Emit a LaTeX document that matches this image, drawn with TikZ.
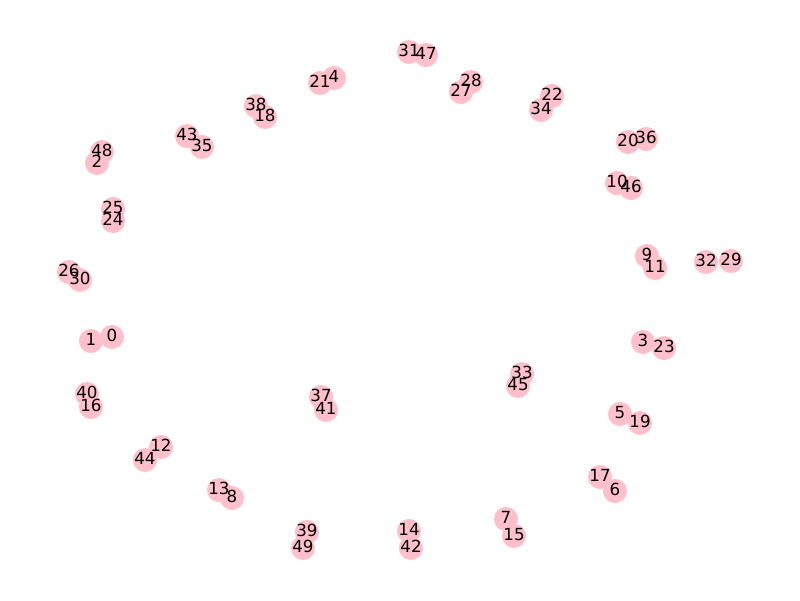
\documentclass[tikz,border=0pt]{standalone}
\usepackage{fontspec}
\setmainfont{DejaVu Sans}
\definecolor{nodepink}{HTML}{FFC0CB}

\begin{document}
\begin{tikzpicture}[x=0.72pt, y=-0.72pt,
    dot/.style={circle, fill=nodepink, inner sep=0pt, minimum size=17.3pt},
    lbl/.style={inner sep=0pt, font=\fontsize{12}{14}\selectfont, yshift=1pt}]
    \useasboundingbox (0, 0) rectangle (800, 600);

    % circles, drawn in index order
    \foreach \i/\x/\y in {
        0/112/337, 1/91/341, 2/97/163, 3/643/342, 4/334/78,
        5/620/414, 6/615/491, 7/506/519, 8/232/498, 9/647/256,
        10/617/183, 11/655/268, 12/161/447, 13/219/490, 14/409/531,
        15/514/536, 16/91/407, 17/600/477, 18/265/117, 19/640/423,
        20/628/142, 21/320/83, 22/552/96, 23/664/348, 24/113/221,
        25/113/209, 26/69/272, 27/461/92, 28/471/82, 29/731/261,
        30/80/280, 31/409/52, 32/706/262, 33/522/374, 34/541/110,
        35/202/147, 36/646/139, 37/321/397, 38/256/106, 39/307/532,
        40/87/394, 41/326/410, 42/411/548, 43/187/136, 44/145/460,
        45/518/386, 46/631/188, 47/426/55, 48/102/152, 49/303/548}
        \node [dot] (n\i) at (\x, \y) {};

    % labels on top
    \foreach \i in {0,...,49}
        \node [lbl] (l\i) at (n\i) {\i};
\end{tikzpicture}
\end{document}
